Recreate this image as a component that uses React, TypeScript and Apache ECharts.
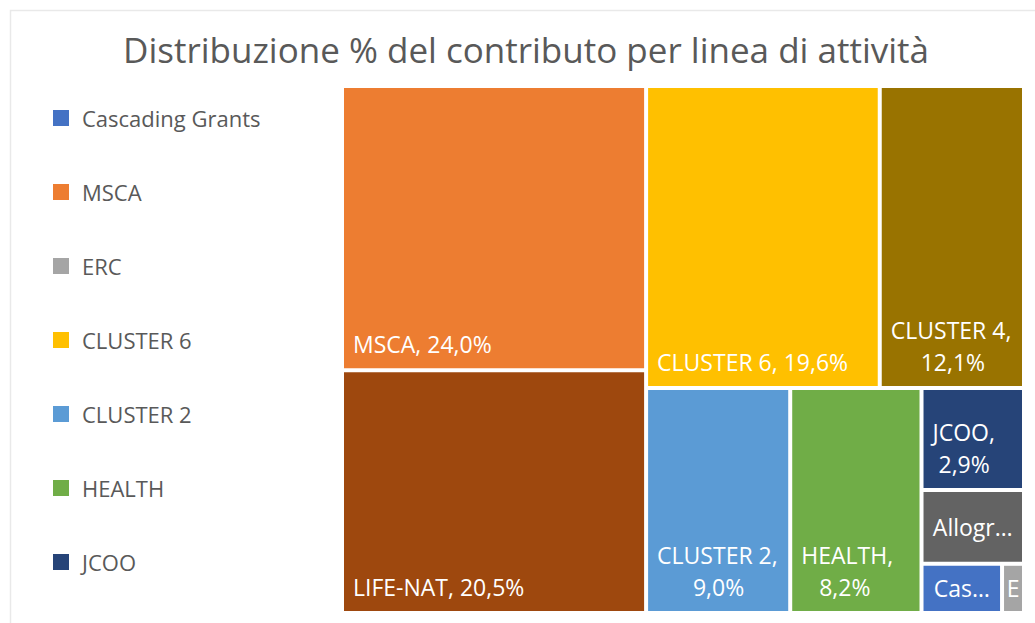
import React, { useEffect, useRef } from 'react';
import * as echarts from 'echarts';

const titleText = 'Distribuzione % del contributo per linea di attività';

// Categories in the workbook's order, their share (%) and Office palette colours
const categories = ['Cascading Grants', 'MSCA', 'ERC', 'CLUSTER 6', 'CLUSTER 2', 'HEALTH', 'JCOO', 'LIFE-NAT', 'Allogr…', 'CLUSTER 4'];
const shares = [1.1, 24.0, 0.3, 19.6, 9.0, 8.2, 2.9, 20.5, 2.1, 12.1];
const colors = ['#4472C4', '#ED7D31', '#A5A5A5', '#FFC000', '#5B9BD5', '#70AD47', '#264478', '#9E480E', '#636363', '#997300'];

// Items listed in the legend
const legendNames = ['Cascading Grants', 'MSCA', 'ERC', 'CLUSTER 6', 'CLUSTER 2', 'HEALTH', 'JCOO'];

// Grouping of the tiles (nesting only, mirrors the reference arrangement)
const tileGroups: any[] = [
  'MSCA',
  'LIFE-NAT',
  ['CLUSTER 6', 'CLUSTER 4'],
  [['CLUSTER 2', 'HEALTH'], ['JCOO', 'Allogr…', ['Cascading Grants', 'ERC']]],
];

const FONT = 'Open Sans';
const LABEL_SIZE = 23;
const NBSP = '\u00a0';

const fmtPct = (v: number) => v.toFixed(1).replace('.', ',') + '%';

let measureCtx: CanvasRenderingContext2D | null = null;
function textWidth(s: string): number {
  if (!measureCtx) {
    measureCtx = document.createElement('canvas').getContext('2d');
  }
  if (!measureCtx) return s.length * LABEL_SIZE * 0.55;
  measureCtx.font = `${LABEL_SIZE}px "${FONT}"`;
  return measureCtx.measureText(s).width;
}

// centre the lines of a two-line label within the widest line (as Excel does)
function centredLines(lines: string[]): string {
  const widths = lines.map(textWidth);
  const maxW = Math.max(...widths);
  const sp = textWidth(NBSP) || LABEL_SIZE * 0.26;
  return lines
    .map((l, i) => NBSP.repeat(Math.max(0, Math.round((maxW - widths[i]) / 2 / sp))) + l)
    .join('\n');
}

function labelFor(name: string, v: number) {
  if (v >= 15) {
    return {
      position: 'insideBottomLeft',
      distance: 0,
      align: 'left',
      padding: [0, 6, 8, 9],
      overflow: 'break',
      formatter: `${name}, ${fmtPct(v)}`,
    };
  }
  if (v >= 2.5) {
    return {
      position: 'insideBottomLeft',
      distance: 0,
      align: 'left',
      padding: [0, 2, 8, 9],
      overflow: 'none',
      formatter: centredLines([`${name},`, fmtPct(v)]),
    };
  }
  return {
    position: 'inside',
    distance: 0,
    align: 'center',
    verticalAlign: 'middle',
    padding: v < 1 ? [0, 1, 0, 1] : [0, 8, 0, 8],
    overflow: 'truncate',
    ellipsis: '…',
    formatter: name,
  };
}

let groupId = 0;
function buildNode(entry: any): any {
  if (typeof entry === 'string') {
    const i = categories.indexOf(entry);
    return {
      name: entry,
      value: shares[i],
      itemStyle: { color: colors[i] },
      label: labelFor(entry, shares[i]),
    };
  }
  groupId += 1;
  return { name: 'group' + groupId, children: entry.map(buildNode) };
}

export default function App() {
  const ref = useRef<HTMLDivElement>(null);

  useEffect(() => {
    if (!ref.current) return;
    const chart = echarts.init(ref.current, undefined, { renderer: 'svg' });
    groupId = 0;
    const treeData = tileGroups.map(buildNode);

    const option: any = {
      animation: false,
      backgroundColor: '#ffffff',
      title: {
        text: titleText,
        left: 521,
        textAlign: 'center',
        top: 27,
        textStyle: { fontFamily: FONT, fontSize: 35, fontWeight: 'normal', color: '#595959' },
      },
      legend: {
        orient: 'vertical',
        left: 48,
        top: 102,
        itemWidth: 16,
        itemHeight: 16,
        itemGap: 52,
        icon: 'rect',
        selectedMode: false,
        data: legendNames,
        itemStyle: { borderWidth: 0 },
        textStyle: { fontFamily: FONT, fontSize: 22, color: '#595959', padding: [0, 0, 0, 8] },
      },
      graphic: [
        {
          type: 'rect',
          silent: true,
          shape: { x: 10.5, y: 10.5, width: 1200, height: 800 },
          style: { fill: 'none', stroke: '#e9e9e9', lineWidth: 1.5 },
        },
      ],
      series: [
        {
          type: 'pie',
          radius: [0, 0],
          center: [-200, -200],
          silent: true,
          label: { show: false },
          labelLine: { show: false },
          data: legendNames.map((n) => {
            const i = categories.indexOf(n);
            return { name: n, value: shares[i], itemStyle: { color: colors[i] } };
          }),
        },
        {
          type: 'treemap',
          left: 344,
          top: 88,
          width: 678,
          height: 523,
          sort: false,
          squareRatio: 1,
          visibleMin: 0,
          roam: false,
          nodeClick: false,
          breadcrumb: { show: false },
          itemStyle: { borderWidth: 0, gapWidth: 4, borderColor: '#ffffff' },
          upperLabel: { show: false },
          label: {
            show: true,
            color: '#ffffff',
            fontFamily: FONT,
            fontSize: LABEL_SIZE,
            lineHeight: 32,
          },
          data: treeData,
        },
      ],
    };

    chart.setOption(option);
    return () => chart.dispose();
  }, []);

  return (
    <div
      ref={ref}
      style={{ position: 'absolute', left: 0, top: 0, width: 1035, height: 623 }}
    />
  );
}
